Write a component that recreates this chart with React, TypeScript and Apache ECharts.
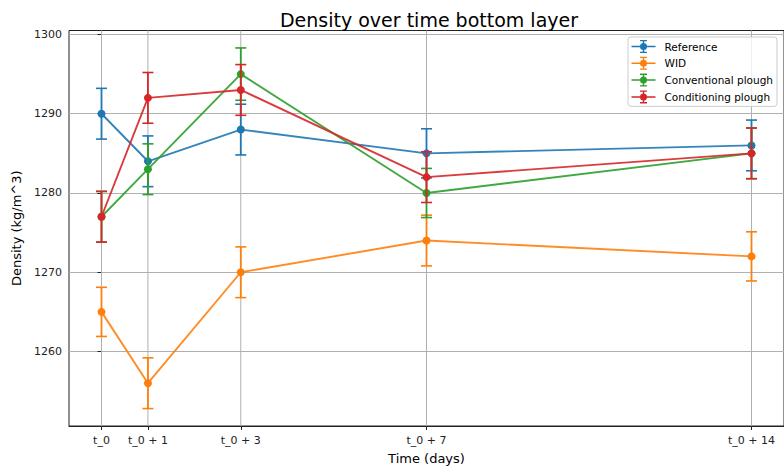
import React, { useEffect, useRef } from "react";
import * as echarts from "echarts";

// ---- data ----
const days = [0, 1, 3, 7, 14];
const dayLabels = ["t_0", "t_0 + 1", "t_0 + 3", "t_0 + 7", "t_0 + 14"];
const yTicks = [1260, 1270, 1280, 1290, 1300];

const seriesNames = ["Reference", "WID", "Conventional plough", "Conditioning plough"];

const referenceValues = [1290, 1284, 1288, 1285, 1286];
const referenceErrors = [3.2, 3.2, 3.2, 3.1, 3.2];

const widValues = [1265, 1256, 1270, 1274, 1272];
const widErrors = [3.1, 3.2, 3.2, 3.2, 3.1];

const conventionalValues = [1277, 1283, 1295, 1280, 1285];
const conventionalErrors = [3.2, 3.2, 3.3, 3.1, 3.2];

const conditioningValues = [1277, 1292, 1293, 1282, 1285];
const conditioningErrors = [3.2, 3.2, 3.2, 3.2, 3.2];

const allValues = [referenceValues, widValues, conventionalValues, conditioningValues];
const allErrors = [referenceErrors, widErrors, conventionalErrors, conditioningErrors];

const colors = ["#1f77b4", "#ff7f0e", "#2ca02c", "#d62728"];
const FONT = "DejaVu Sans";

const legendIcon =
  "path://M0 5.75 H24 V7.25 H0 Z M11.25 0 H12.75 V13 H11.25 Z M8.5 0 H15.5 V1.3 H8.5 Z M8.5 11.7 H15.5 V13 H8.5 Z M8.5 6.5 A3.5 3.5 0 1 1 15.5 6.5 A3.5 3.5 0 1 1 8.5 6.5 Z";

export default function App() {
  const ref = useRef<HTMLDivElement>(null);

  useEffect(() => {
    if (!ref.current) return;
    document.body.style.margin = "0";
    const chart = echarts.init(ref.current, undefined, { renderer: "svg" });

    const series: any[] = [];

    // vertical x grid lines
    series.push({
      type: "custom",
      name: "xgrid",
      silent: true,
      z: 1,
      data: days.map((d) => [d]),
      encode: { x: 0 },
      renderItem: (params: any, api: any) => {
        const cs = params.coordSys;
        const p = api.coord([api.value(0), 1280]);
        return {
          type: "line",
          shape: { x1: p[0], y1: cs.y, x2: p[0], y2: cs.y + cs.height },
          style: { stroke: "#b0b0b0", lineWidth: 1 },
        };
      },
    });

    allValues.forEach((vals, i) => {
      const color = colors[i];
      const errs = allErrors[i];
      series.push({
        type: "custom",
        name: seriesNames[i] + " err",
        silent: true,
        z: 3 + i,
        data: days.map((d, j) => [d, vals[j] - errs[j], vals[j] + errs[j]]),
        encode: { x: 0, y: [1, 2] },
        renderItem: (params: any, api: any) => {
          const x = api.value(0);
          const lo = api.coord([x, api.value(1)]);
          const hi = api.coord([x, api.value(2)]);
          const w = 5.5;
          const st = { stroke: color, lineWidth: 1.6 };
          return {
            type: "group",
            children: [
              { type: "line", shape: { x1: lo[0], y1: lo[1], x2: hi[0], y2: hi[1] }, style: { stroke: color, lineWidth: 1.8 } },
              { type: "line", shape: { x1: lo[0] - w, y1: lo[1], x2: lo[0] + w, y2: lo[1] }, style: st },
              { type: "line", shape: { x1: hi[0] - w, y1: hi[1], x2: hi[0] + w, y2: hi[1] }, style: st },
            ],
          };
        },
      });
      series.push({
        type: "line",
        name: seriesNames[i],
        z: 3 + i,
        data: days.map((d, j) => [d, vals[j]]),
        symbol: "circle",
        symbolSize: 8,
        showSymbol: true,
        lineStyle: { width: 1.9, color, opacity: 0.9 },
        itemStyle: { color },
        emphasis: { disabled: true },
      });
    });

    chart.setOption({
      animation: false,
      backgroundColor: "#fff",
      title: {
        text: "Density over time bottom layer",
        left: 424,
        textAlign: "center",
        top: 5,
        textStyle: { fontFamily: FONT, fontSize: 19, fontWeight: "normal", color: "#000" },
      },
      legend: {
        data: seriesNames,
        orient: "vertical",
        left: 628,
        top: 37,
        icon: legendIcon,
        itemWidth: 24,
        itemHeight: 13,
        itemGap: 3.8,
        padding: [3, 4, 3, 3.5],
        backgroundColor: "rgba(255,255,255,0.8)",
        borderColor: "#cccccc",
        borderWidth: 1,
        borderRadius: 3,
        selectedMode: false,
        textStyle: { fontFamily: FONT, fontSize: 10.5, color: "#000", padding: [0, 0, 0, 4] },
      },
      grid: {
        left: 69,
        top: 30.5,
        right: -6,
        bottom: 42,
        show: true,
        borderColor: "#222",
        borderWidth: 1,
        backgroundColor: "transparent",
      },
      xAxis: {
        type: "value",
        min: -0.7,
        max: 14.7,
        name: "Time (days)",
        nameLocation: "middle",
        nameGap: 26,
        nameTextStyle: { fontFamily: FONT, fontSize: 13, color: "#000" },
        axisLine: { show: true, lineStyle: { color: "#222", width: 1 } },
        axisTick: { show: true, length: 4, customValues: days, lineStyle: { color: "#222" } },
        axisLabel: {
          customValues: days,
          fontFamily: FONT,
          fontSize: 11,
          color: "#222",
          margin: 9,
          formatter: (v: number) => {
            const k = days.indexOf(v);
            return k >= 0 ? dayLabels[k] : "";
          },
        },
        splitLine: { show: false },
      },
      yAxis: {
        type: "value",
        min: 1250.6,
        max: 1300.5,
        name: "Density (kg/m^3)",
        nameLocation: "middle",
        nameGap: 44,
        nameTextStyle: { fontFamily: FONT, fontSize: 13, color: "#000" },
        axisLine: { show: true, lineStyle: { color: "#222", width: 1 } },
        axisTick: { show: true, length: 4, customValues: yTicks, lineStyle: { color: "#222" } },
        axisLabel: {
          customValues: yTicks,
          fontFamily: FONT,
          fontSize: 11,
          color: "#222",
          margin: 7,
          formatter: (v: number) => (yTicks.indexOf(v) >= 0 ? String(v) : ""),
        },
        splitLine: { show: true, lineStyle: { color: "#b0b0b0", width: 1 } },
      },
      series,
    });

    return () => chart.dispose();
  }, []);

  return <div ref={ref} style={{ width: 784, height: 470, position: "absolute", left: 0, top: 0 }} />;
}
